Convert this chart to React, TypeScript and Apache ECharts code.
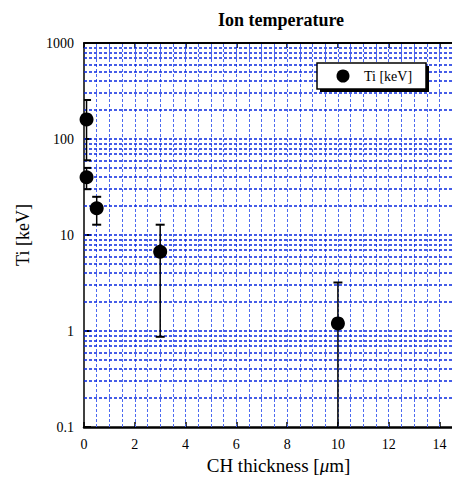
import React, { useEffect, useRef } from "react";
import * as echarts from "echarts";

const thickness = [0.1, 0.1, 0.5, 3, 10];
const tiValues = [160, 40, 19, 6.7, 1.2];
const errLow = [60, 30, 12.8, 0.87, 0.01];
const errHigh = [255, 50, 25, 12.8, 3.2];
const seriesName = "Ti [keV]";
const xTickLabels = [0, 2, 4, 6, 8, 10, 12, 14];
const yTickLabels = ["0.1", "1", "10", "100", "1000"];
const hGridMantissas = [1, 2, 3, 4, 5, 6, 7, 8, 9];
const hGridDecades = [0.1, 1, 10, 100];
const vGridValues = [
  0.5, 1, 1.5, 2, 2.5, 3, 3.5, 4, 4.5, 5, 5.5, 6, 6.5, 7, 7.5, 8, 8.5, 9, 9.5,
  10, 10.5, 11, 11.5, 12, 12.5, 13, 13.5, 14, 14.5,
];

const SERIF = "'Liberation Serif', 'DejaVu Serif', serif";

export default function App() {
  const ref = useRef<HTMLDivElement>(null);
  useEffect(() => {
    if (!ref.current) return;
    const chart = echarts.init(ref.current, null, { renderer: "svg" });
    const hLines: any[] = [];
    hGridDecades.forEach((d) =>
      hGridMantissas.forEach((m) => {
        const v = +(d * m).toPrecision(3);
        if (v > 0.1 && v < 1000) hLines.push({ yAxis: v });
      })
    );
    const vLines = vGridValues.map((v) => ({ xAxis: v }));
    const points = thickness.map((x, i) => [x, tiValues[i]]);
    const errData = thickness.map((x, i) => [x, tiValues[i], errLow[i], errHigh[i]]);

    const option: any = {
      animation: false,
      title: {
        text: "Ion temperature",
        left: 276,
        top: 6,
        textAlign: "center",
        textStyle: { fontFamily: SERIF, fontWeight: "bold", fontSize: 18, color: "#000" },
      },
      grid: { left: 84, top: 43, right: 0, bottom: 56, containLabel: false },
      graphic: [
        {
          type: "rect",
          z: 100,
          silent: true,
          shape: { x: 320, y: 66, width: 109, height: 26 },
          style: { fill: "#000" },
        },
        {
          type: "rect",
          z: 101,
          silent: true,
          shape: { x: 317, y: 63, width: 109, height: 26 },
          style: { fill: "#fff", stroke: "#000", lineWidth: 1.5 },
        },
        {
          type: "circle",
          z: 102,
          silent: true,
          shape: { cx: 343, cy: 76, r: 6.5 },
          style: { fill: "#000" },
        },
        {
          type: "text",
          z: 102,
          silent: true,
          x: 364,
          y: 76,
          style: {
            text: seriesName,
            fontFamily: SERIF,
            fontSize: 14,
            fill: "#000",
            verticalAlign: "middle",
            align: "left",
          },
        },
      ],
      xAxis: [
        {
          type: "value",
          min: 0,
          max: 14.69,
          interval: 2,
          position: "bottom",
          name: "CH thickness [{i|μ}m]",
          nameLocation: "middle",
          nameGap: 29,
          nameTextStyle: {
            fontFamily: SERIF,
            fontSize: 19,
            color: "#000",
            padding: [0, 0, 0, 16],
            rich: { i: { fontFamily: SERIF, fontSize: 19, fontStyle: "italic", color: "#000" } },
          },
          axisLine: { show: true, onZero: false, lineStyle: { color: "#000", width: 2.5 } },
          axisTick: { show: true, inside: true, length: 5, lineStyle: { color: "#000", width: 1.5 } },
          axisLabel: {
            margin: 10,
            fontFamily: SERIF,
            fontSize: 14,
            color: "#000",
            formatter: (v: number) => (xTickLabels.includes(v) ? String(v) : ""),
          },
          splitLine: { show: false },
        },
        {
          type: "value",
          min: 0,
          max: 14.69,
          interval: 2,
          position: "top",
          axisLine: { show: true, onZero: false, lineStyle: { color: "#000", width: 2 } },
          axisTick: { show: true, inside: true, length: 5, lineStyle: { color: "#000", width: 1.5 } },
          axisLabel: { show: false },
          splitLine: { show: false },
        },
      ],
      yAxis: {
        type: "log",
        logBase: 10,
        min: 0.1,
        max: 1000,
        name: "Ti [keV]",
        nameLocation: "middle",
        nameGap: 52,
        nameTextStyle: { fontFamily: SERIF, fontSize: 18, color: "#000" },
        axisLine: { show: true, onZero: false, lineStyle: { color: "#000", width: 1.5 } },
        axisTick: { show: true, inside: true, length: 7, lineStyle: { color: "#000", width: 2 } },
        axisLabel: {
          margin: 10,
          fontFamily: SERIF,
          fontSize: 14,
          color: "#000",
          formatter: (v: number) => {
            const s = String(+v.toPrecision(3));
            return yTickLabels.includes(s) ? s : "";
          },
        },
        splitLine: { show: false },
      },
      series: [
        {
          type: "line",
          data: [],
          z: 1,
          silent: true,
          markLine: {
            z: 1,
            silent: true,
            symbol: ["none", "none"],
            label: { show: false },
            animation: false,
            data: [
              ...vLines.map((d) => ({
                ...d,
                lineStyle: { color: "#4d6af0", width: 1, type: [3, 2], opacity: 1 },
              })),
              ...hLines.map((d) => ({
                ...d,
                lineStyle: { color: "#0a28e0", width: 1.5, type: [3, 2], opacity: 1 },
              })),
            ],
          },
        },
        {
          type: "custom",
          z: 3,
          silent: true,
          data: errData,
          renderItem: (params: any, api: any) => {
            const cs = params.coordSys;
            const x = api.value(0);
            const lo = api.value(2);
            const hi = api.value(3);
            const pHi = api.coord([x, hi]);
            const pLo = api.coord([x, lo]);
            const top = cs.y;
            const bottom = cs.y + cs.height;
            const yHi = Math.max(pHi[1], top);
            const yLo = Math.min(pLo[1], bottom);
            const children: any[] = [
              {
                type: "line",
                shape: { x1: pHi[0], y1: yHi, x2: pHi[0], y2: yLo },
                style: { stroke: "#000", lineWidth: 1.5 },
              },
            ];
            const cap = 4.5;
            const left = cs.x;
            if (pHi[1] >= top)
              children.push({
                type: "line",
                shape: { x1: Math.max(pHi[0] - cap, left), y1: pHi[1], x2: pHi[0] + cap, y2: pHi[1] },
                style: { stroke: "#000", lineWidth: 2 },
              });
            if (pLo[1] <= bottom)
              children.push({
                type: "line",
                shape: { x1: Math.max(pLo[0] - cap, left), y1: pLo[1], x2: pLo[0] + cap, y2: pLo[1] },
                style: { stroke: "#000", lineWidth: 2 },
              });
            return { type: "group", children };
          },
        },
        {
          name: seriesName,
          type: "scatter",
          z: 4,
          data: points,
          symbol: "circle",
          symbolSize: 14,
          itemStyle: { color: "#000", opacity: 1 },
        },
      ],
    };
    chart.setOption(option);
    return () => chart.dispose();
  }, []);
  return <div ref={ref} style={{ width: 460, height: 483, margin: -8 }} />;
}
